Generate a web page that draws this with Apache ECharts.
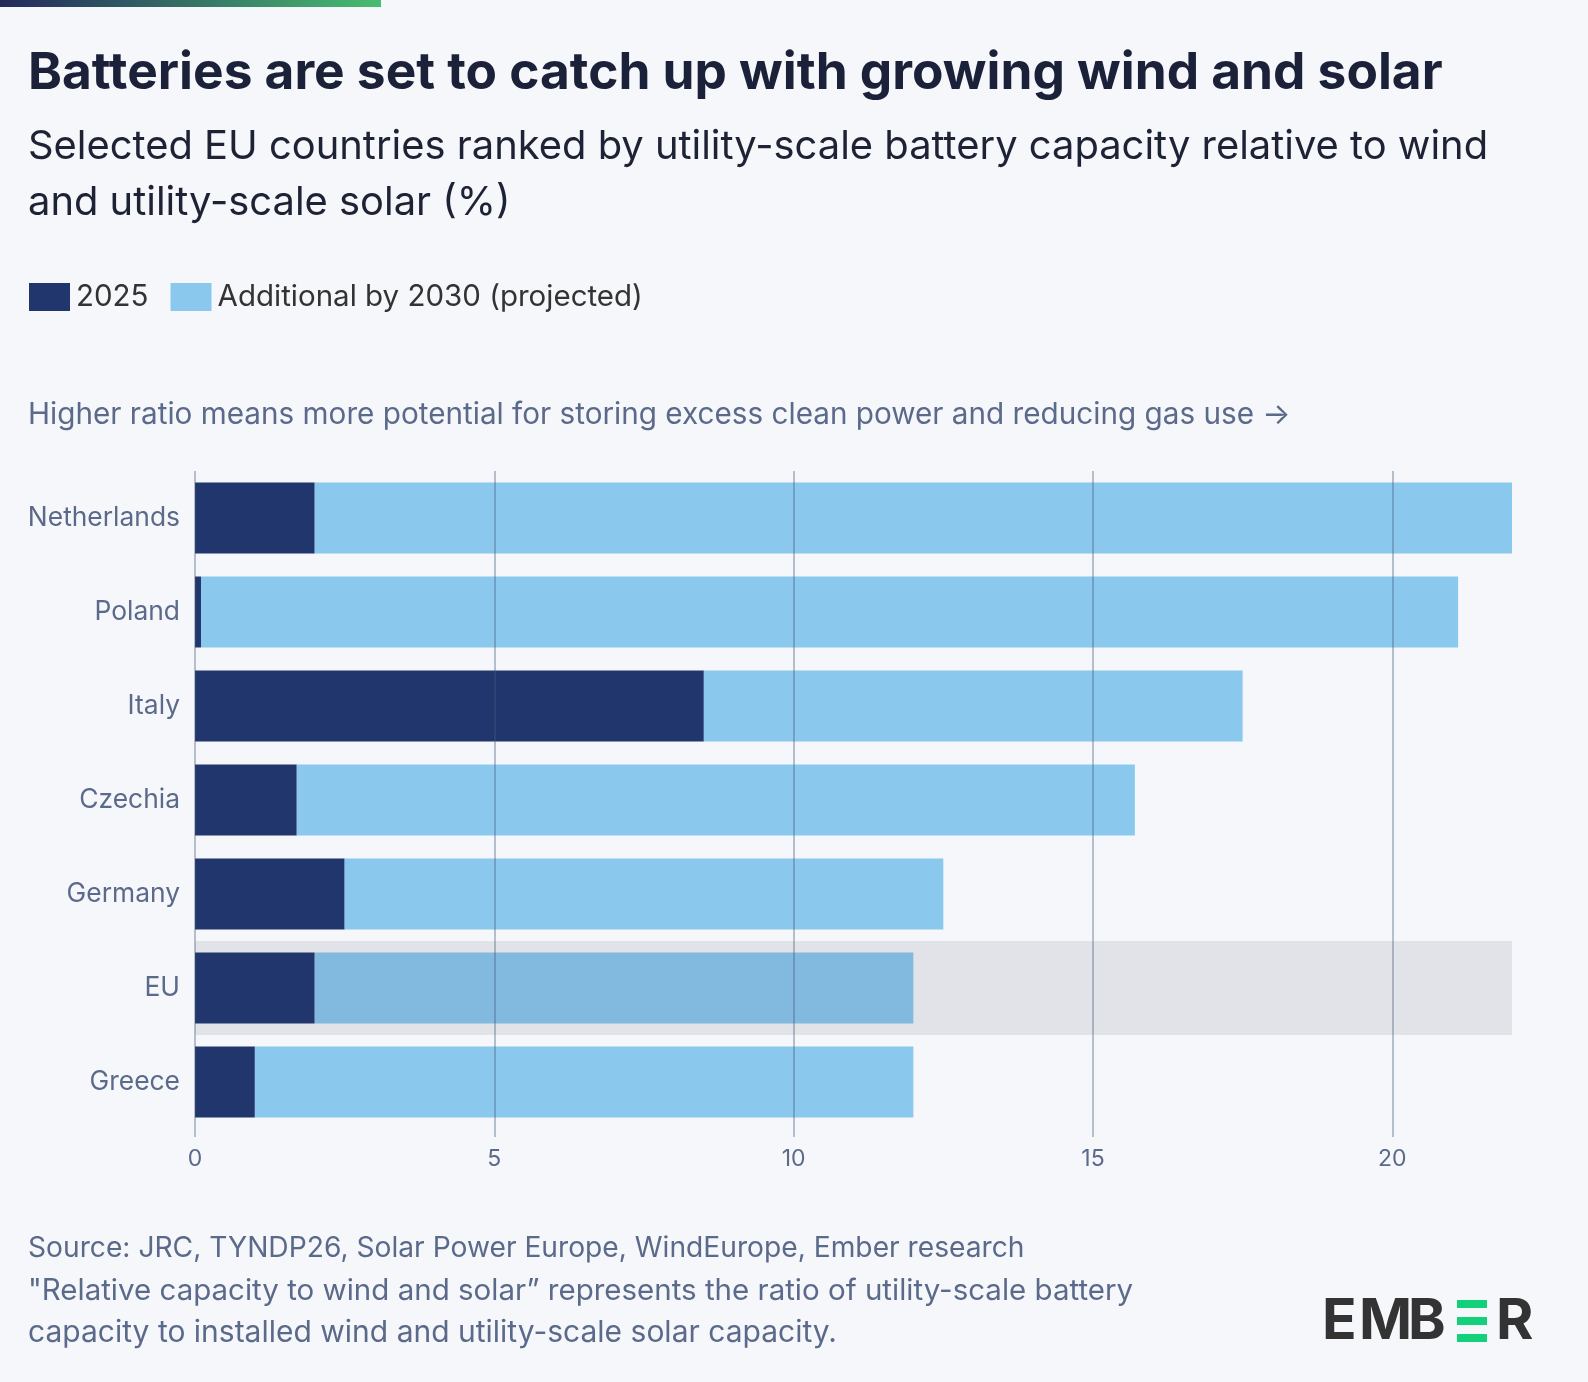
<!DOCTYPE html>
<html>
<head>
<meta charset="utf-8">
<script src="https://cdn.jsdelivr.net/npm/echarts@6/dist/echarts.min.js"></script>
<style>
  html, body { margin: 0; padding: 0; background: #f5f7fb; }
  #chart { width: 1588px; height: 1382px; }
</style>
</head>
<body>
<div id="chart"></div>
<script>
// data (% of wind + utility-scale solar capacity)
var countries = ['Netherlands', 'Poland', 'Italy', 'Czechia', 'Germany', 'EU', 'Greece'];
var cap2025 = [2.0, 0.1, 8.5, 1.7, 2.5, 2.0, 1.0];
var add2030 = [20.0, 21.0, 9.0, 14.0, 10.0, 10.0, 11.0];
var xTicks = [0, 5, 10, 15, 20];
var highlight = 'EU';

var font = 'Inter, "Noto Sans", sans-serif';
var navy = '#22366e';
var sky = '#8ac8ee';
var gridCol = 'rgba(70, 88, 125, 0.36)';
var labelCol = '#5b6a8a';

var myChart = echarts.init(document.getElementById('chart'));

// grey band behind the EU row, via the category axis split areas
var bandColors = countries.map(function (c) {
    return c === highlight ? '#e2e3e8' : 'rgba(0,0,0,0)';
});

var s2025 = cap2025.map(function (v) {
    return { value: v };
});
var sAdd = add2030.map(function (v, i) {
    var item = { value: v };
    if (countries[i] === highlight) {
        item.itemStyle = { color: '#82b9de' };
    }
    return item;
});

function txt(x, y, text, f, fill) {
    return {
        type: 'text', x: x, y: y,
        style: { text: text, font: f, fill: fill, textVerticalAlign: 'middle' }
    };
}

var option = {
    backgroundColor: '#f5f7fb',
    animation: false,
    textStyle: { fontFamily: font },
    grid: {
        left: 195,
        right: 76,
        top: 471,
        height: 658
    },
    legend: {
        left: 24,
        top: 277,
        icon: 'rect',
        itemWidth: 41,
        itemHeight: 28,
        itemGap: 22,
        selectedMode: false,
        textStyle: { fontSize: 29.5, color: '#333', fontFamily: font, padding: [0, 0, 0, 1] },
        data: ['2025', 'Additional by 2030 (projected)']
    },
    xAxis: {
        type: 'value',
        min: 0,
        max: 22,
        interval: 5,
        z: 5,
        axisLine: { show: false },
        axisTick: {
            show: true,
            length: 8,
            customValues: xTicks,
            lineStyle: { color: gridCol, width: 2 }
        },
        axisLabel: {
            show: true,
            showMaxLabel: false,
            margin: 19,
            fontSize: 23,
            color: labelCol,
            fontFamily: font,
            formatter: function (v) {
                return xTicks.indexOf(v) >= 0 ? '{t|' + v + '}' : '';
            },
            rich: {
                t: { fontSize: 23, color: labelCol, fontFamily: font }
            }
        },
        splitLine: {
            show: true,
            lineStyle: { color: [gridCol, gridCol, gridCol, gridCol, gridCol, 'rgba(0,0,0,0)'], width: 2 }
        }
    },
    yAxis: {
        type: 'category',
        inverse: true,
        data: countries,
        axisLine: { show: false },
        axisTick: { show: false },
        axisLabel: {
            margin: 15,
            fontSize: 26.4,
            color: labelCol,
            fontFamily: font
        },
        splitLine: { show: false },
        splitArea: {
            show: true,
            areaStyle: { color: bandColors }
        }
    },
    series: [
        {
            name: '2025',
            type: 'bar',
            stack: 'total',
            barCategoryGap: '24.5%',
            itemStyle: { color: navy },
            data: s2025
        },
        {
            name: 'Additional by 2030 (projected)',
            type: 'bar',
            stack: 'total',
            barCategoryGap: '24.5%',
            itemStyle: { color: sky },
            data: sAdd
        }
    ],
    graphic: [
        {
            type: 'rect',
            left: 0, top: 0,
            shape: { width: 381, height: 7 },
            style: {
                fill: new echarts.graphic.LinearGradient(0, 0, 1, 0, [
                    { offset: 0, color: '#24285c' },
                    { offset: 1, color: '#47bd70' }
                ])
            }
        },
        txt(28, 74, 'Batteries are set to catch up with growing wind and solar', 'bold 51.4px ' + font, '#1a2138'),
        txt(28, 147, 'Selected EU countries ranked by utility-scale battery capacity relative to wind', '39.9px ' + font, '#1e2235'),
        txt(28, 203, 'and utility-scale solar (%)', '39.9px ' + font, '#1e2235'),
        txt(28, 415, 'Higher ratio means more potential for storing excess clean power and reducing gas use \u2192', '29.7px ' + font, labelCol),
        txt(28, 1249, 'Source: JRC, TYNDP26, Solar Power Europe, WindEurope, Ember research', '28.2px ' + font, labelCol),
        txt(28, 1291, '"Relative capacity to wind and solar\u201d represents the ratio of utility-scale battery', '29.5px ' + font, labelCol),
        txt(28, 1333, 'capacity to installed wind and utility-scale solar capacity.', '30px ' + font, labelCol),
        // EMBER logo
        txt(1322, 1322, 'E', 'bold 57px ' + font, '#333'),
        txt(1359, 1322, 'M', 'bold 57px ' + font, '#333'),
        txt(1408, 1322, 'B', 'bold 57px ' + font, '#333'),
        { type: 'rect', x: 1457, y: 1300, shape: { width: 30, height: 8 }, style: { fill: '#13d17a' } },
        { type: 'rect', x: 1457, y: 1317, shape: { width: 30, height: 8 }, style: { fill: '#13d17a' } },
        { type: 'rect', x: 1457, y: 1334, shape: { width: 30, height: 8 }, style: { fill: '#13d17a' } },
        txt(1496, 1322, 'R', 'bold 57px ' + font, '#333')
    ]
};

myChart.setOption(option);
</script>
</body>
</html>
